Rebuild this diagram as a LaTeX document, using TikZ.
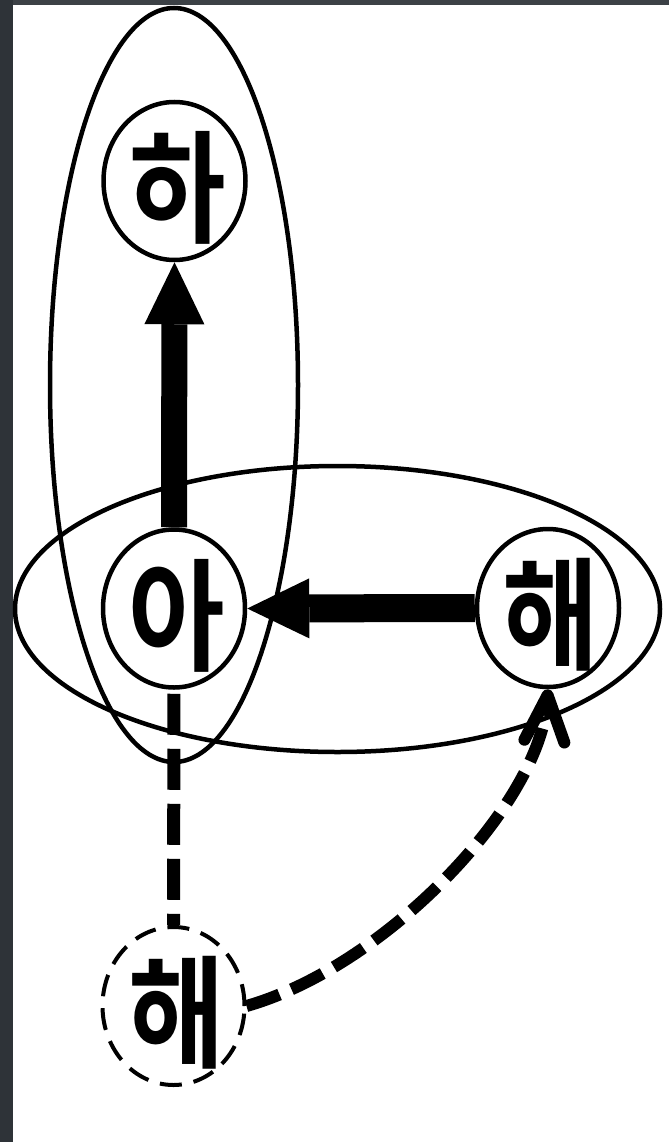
\documentclass[tikz,border=0pt]{standalone}
\usepackage{fontspec}
\usepackage{graphicx}
\newfontfamily\kr{Noto Sans CJK KR}[BoldFont={* Bold}]
\usetikzlibrary{shapes.geometric,arrows.meta}
\definecolor{frame}{HTML}{2E3338}
\definecolor{frametop}{HTML}{3C4146}
\newcommand\hg[1]{\makebox[0pt]{\hspace*{6pt}\smash{\raisebox{\dimexpr(\depth-\height)/2-7pt\relax}{\kr\bfseries\fontsize{122pt}{122pt}\selectfont\scalebox{0.86}[1]{#1}}}}}
\tikzset{
  group/.style={draw, ellipse, line width=4.5pt, inner sep=0pt},
  syl/.style={draw, ellipse, line width=4.5pt, inner sep=0pt, minimum width=142pt, minimum height=158pt},
  ghost/.style={syl, line width=4pt, dash pattern=on 22pt off 12pt},
  bigarrow/.style={line width=26pt, -{Triangle[length=62pt,width=60pt,line width=0pt]}},
  dashlink/.style={line width=13pt, dash pattern=on 41pt off 14pt, dash phase=51pt},
  dasharrow/.style={line width=12pt, dash pattern=on 35pt off 13pt, -{Straight Barb[length=46pt,width=40pt,round]}}
}
\begin{document}
\begin{tikzpicture}[x=1pt,y=-1pt]
\useasboundingbox (0,0) rectangle (669,1142);
\fill[white] (0,0) rectangle (669,1142);
\fill[frame] (0,0) rectangle (13,1142);
\fill[frametop] (13,0) rectangle (669,5);
% groups
\node[group, minimum width=248pt, minimum height=754pt] (gv) at (174,385) {};
\node[group, minimum width=645pt, minimum height=286pt] (gh) at (337.5,609) {};
% syllables
\node[syl] (ha) at (174.5,181) {\hg{하}};
\node[syl] (a) at (174,608.5) {\hg{아}};
\node[syl] (hae) at (548,608) {\hg{해}};
\node[ghost] (hae2) at (173.5,1006) {\hg{해}};
% connectors
\draw[bigarrow] (a.north) -- (ha.south);
\draw[bigarrow, line width=28pt] (hae.west) -- (a.east);
\draw[dashlink] (a.south) -- (hae2.north);
\draw[dasharrow] (hae2.east) .. controls +(140,-40) and +(-8,115) .. (hae.south);
\end{tikzpicture}
\end{document}
